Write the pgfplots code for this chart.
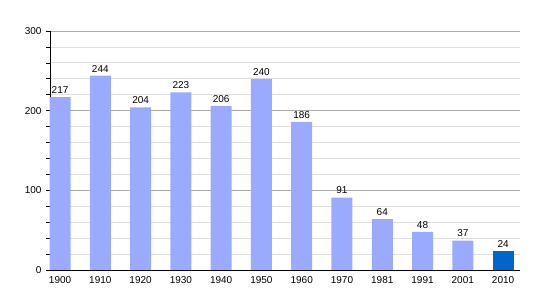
\documentclass[border=0pt]{standalone}
\usepackage{pgfplots}
\pgfplotsset{compat=1.18}
\usepackage{fontspec}
\setmainfont{Liberation Sans}
\definecolor{barlight}{RGB}{153,170,255}
\definecolor{bardark}{RGB}{0,102,204}
\begin{document}
\begin{tikzpicture}[x=1pt,y=1pt]
\fontsize{10}{12}\selectfont
\path[use as bounding box] (-50,-30) rectangle (500,270);
\begin{axis}[
  at={(0,0)}, anchor=south west,
  scale only axis, width=470pt, height=239pt,
  xmin=-0.25, xmax=11.42,
  ymin=0, ymax=300,
  xtick={0,...,11},
  xticklabels={1900,1910,1920,1930,1940,1950,1960,1970,1981,1991,2001,2010},
  major x tick style={draw=none},
  ytick={0,100,200,300},
  minor y tick num=4,
  ymajorgrids, yminorgrids,
  major grid style={draw=black!33, line width=0.8pt},
  minor grid style={draw=black!12, line width=0.8pt},
  axis x line*=bottom, axis y line*=left,
  axis line style={black, line width=0.9pt, -},
  tick align=outside,
  major tick length=4pt, minor tick length=4pt,
  y tick style={black, line width=0.6pt},
  tick label style={font=\fontsize{10}{12}\selectfont},
  /pgf/number format/assume math mode=true,
  ybar, bar width=21pt, bar shift=0pt,
  nodes near coords,
  every node near coord/.append style={font=\fontsize{10}{12}\selectfont, yshift=0pt},
  xticklabel style={yshift=1pt},
  yticklabel style={xshift=-1pt},
  clip=false,
]
\addplot[fill=barlight, draw=none] coordinates {
 (0,217) (1,244) (2,204) (3,223) (4,206) (5,240) (6,186) (7,91) (8,64) (9,48) (10,37)};
\addplot[fill=bardark, draw=none] coordinates {(11,24)};
\end{axis}
\end{tikzpicture}
\end{document}
